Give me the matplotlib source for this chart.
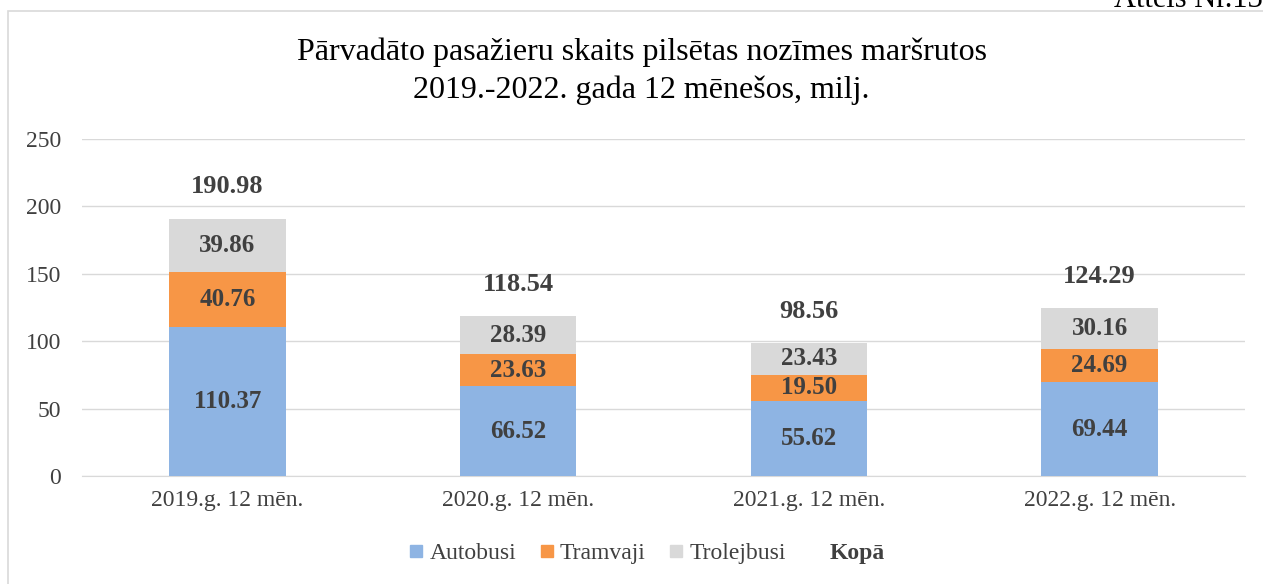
import numpy as np
import matplotlib.pyplot as plt
from matplotlib.patches import Rectangle
from matplotlib.lines import Line2D

plt.rcParams['font.family'] = ['Liberation Serif', 'DejaVu Serif']

categories = ['2019.g. 12 mēn.', '2020.g. 12 mēn.', '2021.g. 12 mēn.', '2022.g. 12 mēn.']
autobusi = [110.37, 66.52, 55.62, 69.44]
tramvaji = [40.76, 23.63, 19.50, 24.69]
trolejbusi = [39.86, 28.39, 23.43, 30.16]
kopa = [190.98, 118.54, 98.56, 124.29]

c_auto = '#8EB4E3'
c_tram = '#F79646'
c_trol = '#D9D9D9'
txt = '#404040'

fig = plt.figure(figsize=(12.63, 5.84), dpi=100)
ax = fig.add_axes([82/1263, 1 - 476/584, 1163/1263, 337/584])

x = np.arange(len(categories))
w = 0.4
a = np.array(autobusi)
t = np.array(tramvaji)
tr = np.array(trolejbusi)
ax.bar(x, a, w, color=c_auto, zorder=3)
ax.bar(x, t, w, bottom=a, color=c_tram, zorder=3)
ax.bar(x, tr, w, bottom=a + t, color=c_trol, zorder=3)

for i in range(len(x)):
    ax.text(x[i], a[i] / 2, f'{autobusi[i]:.2f}', ha='center', va='center',
            fontsize=18, fontweight='bold', color=txt, zorder=4)
    ax.text(x[i], a[i] + t[i] / 2, f'{tramvaji[i]:.2f}', ha='center', va='center',
            fontsize=18, fontweight='bold', color=txt, zorder=4)
    ax.text(x[i], a[i] + t[i] + tr[i] / 2, f'{trolejbusi[i]:.2f}', ha='center', va='center',
            fontsize=18, fontweight='bold', color=txt, zorder=4)
    ax.annotate(f'{kopa[i]:.2f}', (x[i], kopa[i]), xytext=(0, 23), textcoords='offset points',
                ha='center', va='center', fontsize=19, fontweight='bold', color=txt)

ax.set_xlim(-0.5, 3.5)
ax.set_ylim(0, 250)
ax.set_yticks(range(0, 251, 50))
ax.set_xticks(x)
ax.set_xticklabels(categories)
ax.grid(axis='y', color='#D9D9D9', linewidth=1, zorder=0)
for s in ['top', 'right', 'left']:
    ax.spines[s].set_visible(False)
ax.spines['bottom'].set_color('#D9D9D9')
ax.tick_params(axis='both', colors=txt, labelsize=17, length=0)
ax.tick_params(axis='y', pad=15)
ax.tick_params(axis='x', pad=10)

fig.text(0.508, 1 - 52/584, 'Pārvadāto pasažieru skaits pilsētas nozīmes maršrutos',
         ha='center', va='center', fontsize=23, color='black')
fig.text(0.508, 1 - 90/584, '2019.-2022. gada 12 mēnešos, milj.',
         ha='center', va='center', fontsize=23, color='black')

handles = [Line2D([], [], marker='s', linestyle='', color=c_auto, markersize=9),
           Line2D([], [], marker='s', linestyle='', color=c_tram, markersize=9),
           Line2D([], [], marker='s', linestyle='', color=c_trol, markersize=9),
           Line2D([], [], linestyle='', marker='')]
leg = fig.legend(handles, ['Autobusi', 'Tramvaji', 'Trolejbusi', 'Kopā'],
                 loc='center', bbox_to_anchor=(647/1263, 1 - 553/584), ncol=4,
                 frameon=False, fontsize=17, handlelength=0.6, handletextpad=0.25,
                 columnspacing=1.0)
for tx in leg.get_texts():
    tx.set_color(txt)
leg.get_texts()[3].set_fontweight('bold')

# chart border and cut-off caption above it
fig.add_artist(Rectangle((8/1263, -0.05), 1.1, 1 - 11/584 + 0.05, transform=fig.transFigure,
                         fill=False, edgecolor='#D9D9D9', linewidth=1.2))
fig.text(1.0, 1 - 7/584, 'Attēls Nr.13', ha='right', va='baseline', fontsize=22, color='black')

fig.savefig('out.png', dpi=100)
